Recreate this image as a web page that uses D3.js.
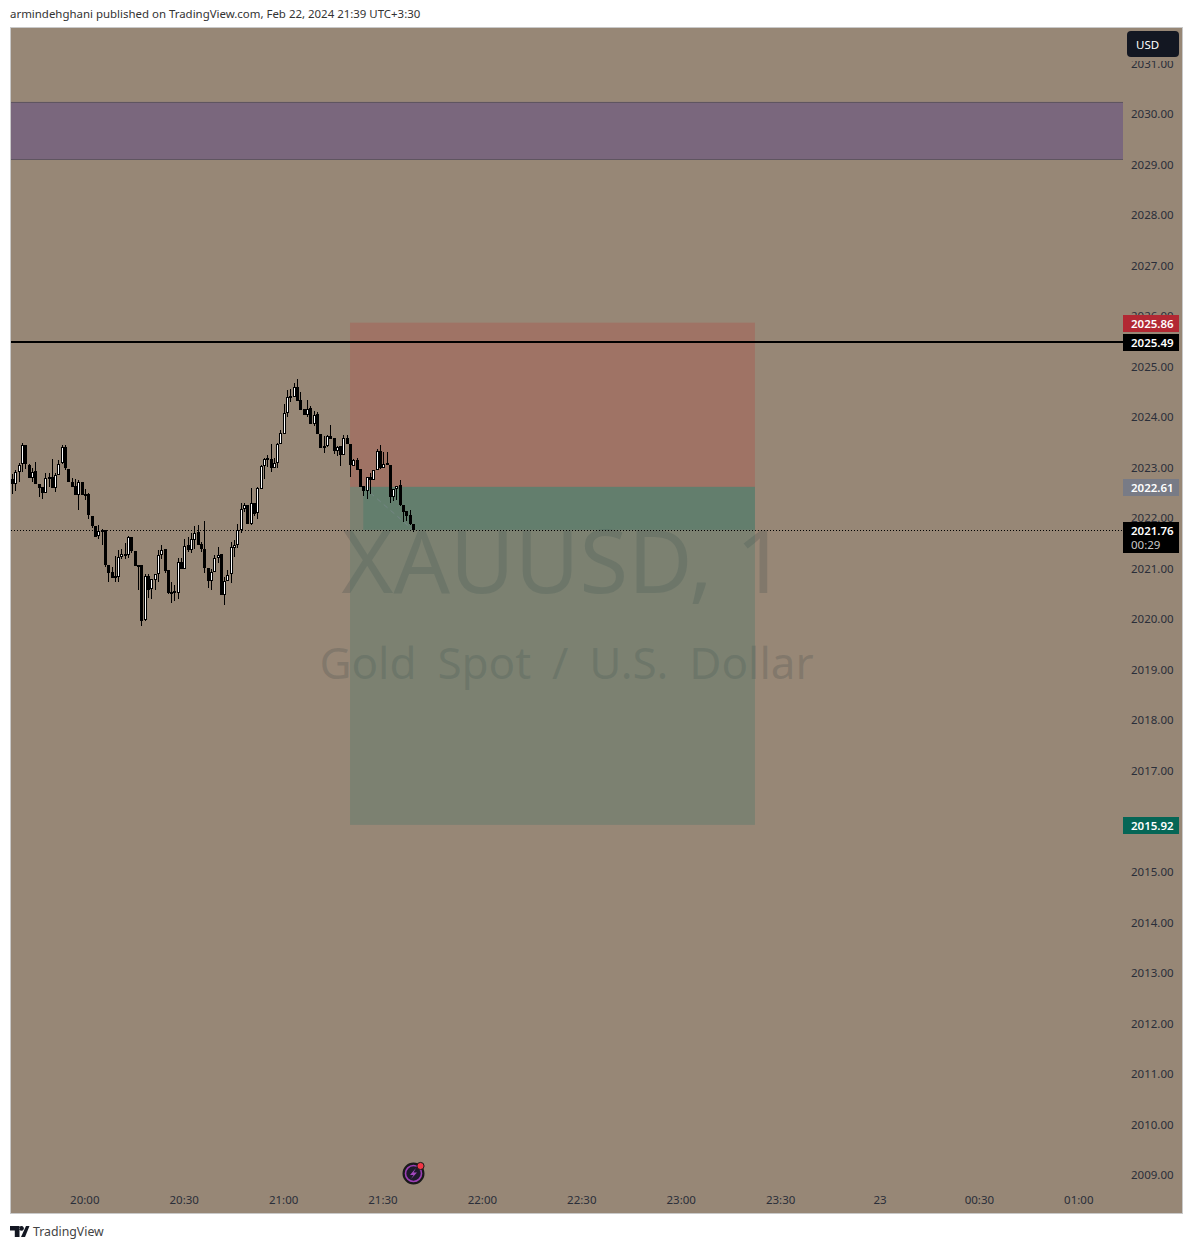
<!DOCTYPE html>
<html><head><meta charset="utf-8">
<script src="https://cdn.jsdelivr.net/npm/d3@7/dist/d3.min.js"></script>
<style>html,body{margin:0;padding:0;background:#fff}svg{display:block}text{font-family:"Noto Sans",sans-serif}</style>
</head><body><svg id="c" width="1193" height="1249"></svg>
<script>
const startMinute = -22;
const opens = [2022.76,2022.67,2022.91,2023.05,2023.43,2023.05,2022.79,2022.93,2022.67,2022.60,2022.49,2022.81,2022.81,2022.60,2022.85,2023.07,2023.39,2022.97,2022.71,2022.62,2022.45,2022.71,2022.46,2022.46,2022.04,2021.84,2021.63,2021.73,2021.76,2021.07,2020.92,2020.84,2020.83,2021.23,2021.29,2021.25,2021.61,2021.34,2021.07,2021.07,2019.97,2020.85,2020.58,2020.78,2020.89,2021.27,2021.38,2020.96,2020.50,2020.54,2020.52,2021.13,2020.99,2021.45,2021.36,2021.57,2021.71,2021.47,2021.39,2021.01,2020.75,2020.93,2021.21,2021.28,2020.47,2020.75,2020.87,2021.41,2021.46,2021.76,2022.18,2022.26,2021.88,2022.29,2022.08,2022.58,2023.03,2023.18,2023.17,2022.99,2023.09,2023.46,2023.67,2024.08,2024.40,2024.39,2024.58,2024.32,2024.15,2024.04,2024.17,2023.86,2024.05,2023.65,2023.38,2023.42,2023.61,2023.57,2023.32,2023.41,2023.24,2023.57,2023.45,2023.03,2023.14,2022.96,2022.62,2022.53,2022.81,2022.75,2022.95,2023.32,2022.99,2023.08,2023.05,2022.41,2022.57,2022.64,2022.25,2022.13,2022.05,2021.88];
const highs = [2022.86,2022.94,2023.09,2023.47,2023.43,2023.07,2022.99,2023.11,2022.67,2022.60,2022.89,2022.89,2023.17,2022.89,2023.15,2023.43,2023.43,2022.97,2022.79,2022.77,2022.74,2022.71,2022.56,2022.48,2022.04,2021.84,2021.86,2021.78,2021.76,2021.07,2021.03,2021.24,2021.37,2021.39,2021.49,2021.63,2021.61,2021.34,2021.07,2021.07,2020.88,2020.89,2020.78,2020.89,2021.36,2021.45,2021.39,2020.96,2020.72,2020.66,2021.20,2021.21,2021.57,2021.62,2021.69,2021.83,2021.85,2021.52,2021.93,2021.01,2020.99,2021.26,2021.42,2021.28,2020.83,2020.96,2021.51,2021.55,2021.87,2022.30,2022.30,2022.26,2022.58,2022.29,2022.60,2023.05,2023.19,2023.25,2023.45,2023.18,2023.47,2023.73,2024.26,2024.52,2024.54,2024.66,2024.74,2024.49,2024.15,2024.32,2024.21,2024.11,2024.09,2023.65,2023.61,2023.63,2023.83,2023.57,2023.42,2023.42,2023.63,2023.63,2023.45,2023.17,2023.18,2022.96,2022.62,2022.81,2022.89,2022.95,2023.36,2023.44,2023.30,2023.30,2023.05,2022.57,2022.63,2022.74,2022.25,2022.13,2022.16,2021.88];
const lows = [2022.46,2022.53,2022.71,2022.91,2022.97,2022.79,2022.71,2022.67,2022.41,2022.37,2022.48,2022.61,2022.60,2022.51,2022.85,2023.07,2022.94,2022.71,2022.61,2022.45,2022.16,2022.46,2022.36,2021.98,2021.80,2021.62,2021.58,2021.45,2021.03,2020.73,2020.81,2020.73,2020.73,2021.19,2021.18,2021.21,2021.30,2021.05,2020.56,2019.85,2019.96,2020.41,2020.39,2020.56,2020.72,2021.18,2020.91,2020.48,2020.31,2020.35,2020.39,2020.99,2020.99,2021.32,2021.30,2021.39,2021.46,2021.32,2020.91,2020.61,2020.56,2020.92,2021.11,2020.47,2020.27,2020.75,2020.71,2021.22,2021.40,2021.70,2022.11,2021.88,2021.85,2022.04,2021.98,2022.57,2022.76,2023.00,2022.91,2022.99,2022.99,2023.46,2023.67,2023.99,2024.29,2024.39,2024.31,2024.13,2024.03,2023.99,2023.85,2023.82,2023.65,2023.37,2023.28,2023.40,2023.55,2023.27,2023.22,2023.02,2023.24,2023.45,2022.81,2023.02,2022.95,2022.61,2022.43,2022.37,2022.46,2022.75,2022.95,2022.97,2022.99,2023.05,2022.29,2022.33,2022.35,2022.24,2021.92,2021.94,2021.86,2021.71];
const closes = [2022.67,2022.91,2023.05,2023.43,2023.05,2022.79,2022.91,2022.67,2022.60,2022.49,2022.79,2022.79,2022.60,2022.85,2023.07,2023.39,2022.97,2022.71,2022.61,2022.45,2022.71,2022.46,2022.45,2022.04,2021.84,2021.63,2021.73,2021.76,2021.07,2020.91,2020.81,2020.83,2021.23,2021.29,2021.25,2021.61,2021.34,2021.05,2021.05,2019.97,2020.85,2020.58,2020.78,2020.89,2021.27,2021.36,2020.95,2020.50,2020.53,2020.52,2021.13,2020.99,2021.44,2021.36,2021.57,2021.70,2021.46,2021.38,2021.01,2020.75,2020.93,2021.21,2021.27,2020.47,2020.75,2020.87,2021.41,2021.46,2021.76,2022.18,2022.26,2021.88,2022.29,2022.08,2022.58,2023.03,2023.17,2023.16,2022.99,2023.09,2023.46,2023.67,2024.08,2024.39,2024.39,2024.58,2024.31,2024.13,2024.04,2024.16,2023.86,2024.04,2023.65,2023.38,2023.42,2023.61,2023.56,2023.32,2023.40,2023.24,2023.57,2023.45,2023.03,2023.14,2022.95,2022.61,2022.53,2022.81,2022.75,2022.95,2023.32,2022.99,2023.07,2023.05,2022.41,2022.57,2022.63,2022.24,2022.12,2022.04,2021.88,2021.76];
const priceTicks = [2009,2010,2011,2012,2013,2014,2015,2016,2017,2018,2019,2020,2021,2022,2023,2024,2025,2026,2027,2028,2029,2030,2031];
const timeTicks = [0,30,60,90,120,150,180,210,240,270,300];
const timeLabels = ["20:00","20:30","21:00","21:30","22:00","22:30","23:00","23:30","23","00:30","01:00"];
const zoneTop = 2030.23, zoneBottom = 2029.09;
const stopPrice = 2025.86, entryPrice = 2022.61, targetPrice = 2015.92, levelPrice = 2025.49, lastPrice = 2021.76;
const positionStart = 80, positionEnd = 202.2, positionFill = 84;
const symbolTitle = "XAUUSD, 1", symbolName = "Gold Spot / U.S. Dollar";
const headerText = "armindehghani published on TradingView.com, Feb 22, 2024 21:39 UTC+3:30";

const svg = d3.select("#c");
const paneL=11, plotR=1123, bg="#978776";
const x = d3.scaleLinear().domain([0,30]).range([85,184.4]);
const y = d3.scaleLinear().domain([2030,2009]).range([113.5,1174.5]);

svg.append("text").attr("x",10).attr("y",18).attr("font-size",11.45).attr("fill","#333").text(headerText);
svg.append("rect").attr("x",10.5).attr("y",27.5).attr("width",1172).attr("height",1186).attr("fill",bg).attr("stroke","#c9c9c9");

// watermark
const wm = svg.append("g").attr("text-anchor","middle").attr("fill","#4f5552").attr("fill-opacity",.3);
wm.append("text").attr("x",564).attr("y",593).attr("font-size",88.5).text(symbolTitle);
wm.append("text").attr("x",566.5).attr("y",679).attr("font-size",44).attr("word-spacing",9.5).text(symbolName);

// zone
svg.append("rect").attr("x",paneL).attr("width",plotR-paneL).attr("y",y(zoneTop)).attr("height",y(zoneBottom)-y(zoneTop)).attr("fill","#7a677d");
[zoneTop,zoneBottom].forEach(p=>svg.append("line").attr("x1",paneL).attr("x2",plotR).attr("y1",Math.round(y(p))+.5).attr("y2",Math.round(y(p))+.5).attr("stroke","#5f5560"));

// position
const bx0=x(positionStart), bx1=x(positionEnd);
svg.append("rect").attr("x",bx0).attr("width",bx1-bx0).attr("y",y(stopPrice)).attr("height",y(entryPrice)-y(stopPrice)).attr("fill","#b2443f").attr("fill-opacity",.3);
svg.append("rect").attr("x",bx0).attr("width",bx1-bx0).attr("y",y(entryPrice)).attr("height",y(targetPrice)-y(entryPrice)).attr("fill","#3f7468").attr("fill-opacity",.3);
svg.append("rect").attr("x",x(positionFill)).attr("width",bx1-x(positionFill)).attr("y",y(entryPrice)).attr("height",y(lastPrice)-y(entryPrice)).attr("fill","#2f7a66").attr("fill-opacity",.32);
svg.append("line").attr("x1",x(positionFill)).attr("y1",y(entryPrice)).attr("x2",x(startMinute+opens.length-1)).attr("y2",y(lastPrice)).attr("stroke","#7f8a92").attr("stroke-width",1).attr("stroke-dasharray","5 4").attr("stroke-opacity",.6);

// levels
svg.append("line").attr("x1",paneL).attr("x2",plotR).attr("y1",Math.ceil(y(levelPrice))).attr("y2",Math.ceil(y(levelPrice))).attr("stroke","#000").attr("stroke-width",2);
svg.append("line").attr("x1",paneL).attr("x2",plotR).attr("y1",Math.round(y(lastPrice))+.5).attr("y2",Math.round(y(lastPrice))+.5).attr("stroke","#000").attr("stroke-dasharray","1 2");

// candles
const cg = svg.append("g").attr("shape-rendering","crispEdges");
const idx = d3.range(opens.length);
const cx = i=>Math.round(x(startMinute+i));
cg.selectAll("line.w").data(idx).join("line").attr("x1",i=>cx(i)+.5).attr("x2",i=>cx(i)+.5).attr("y1",i=>y(highs[i])).attr("y2",i=>y(lows[i])).attr("stroke","#000");
cg.selectAll("rect.b").data(idx).join("rect").attr("x",i=>cx(i)-1).attr("width",3).attr("y",i=>Math.round(y(Math.max(opens[i],closes[i])))).attr("height",i=>Math.max(2,Math.round(Math.abs(y(opens[i])-y(closes[i]))))).attr("fill","#000");
cg.selectAll("rect.f").data(idx.filter(i=>closes[i]>opens[i])).join("rect").attr("x",i=>cx(i)).attr("width",1).attr("y",i=>Math.round(y(closes[i]))+1).attr("height",i=>Math.max(0,Math.round(Math.abs(y(opens[i])-y(closes[i])))-2)).attr("fill","#fff");

// axes
const yAxis = d3.axisRight(y).tickValues(priceTicks).tickSize(0).tickPadding(0).tickFormat(d3.format(".2f"));
const ya = svg.append("g").attr("transform","translate(1131,0.5)").call(yAxis);
ya.select(".domain").remove();
ya.selectAll("text").attr("font-size",11.5).attr("fill","#2a2e39").attr("font-family",'"Noto Sans",sans-serif');
const xAxis = d3.axisBottom(x).tickValues(timeTicks).tickSize(0).tickPadding(0).tickFormat((d,i)=>timeLabels[i]);
const xa = svg.append("g").attr("transform","translate(-0.7,1196)").call(xAxis);
xa.select(".domain").remove();
xa.selectAll("text").attr("font-size",11.5).attr("fill","#2a2e39").attr("font-family",'"Noto Sans",sans-serif');

// price labels
function tag(p,txt,col,h,extra){
  const yy=Math.ceil(y(p));
  svg.append("rect").attr("x",1123).attr("width",56).attr("y",yy-8).attr("height",h).attr("fill",col);
  svg.append("text").attr("x",1131).attr("y",yy+4.5).attr("font-size",11.5).attr("font-weight",600).attr("fill","#fff").text(txt);
  if(extra) svg.append("text").attr("x",1131).attr("y",yy+18.5).attr("font-size",11.5).attr("fill","#c8c8c8").text(extra);
}
tag(stopPrice,d3.format(".2f")(stopPrice),"#b22833",17);
tag(levelPrice,d3.format(".2f")(levelPrice),"#000",17);
tag(entryPrice,d3.format(".2f")(entryPrice),"#787b86",17);
tag(lastPrice,d3.format(".2f")(lastPrice),"#000",31,"00:29");
tag(targetPrice,d3.format(".2f")(targetPrice),"#056656",17);

// USD button, with the halo that clips the top of the 2031 label
svg.append("rect").attr("x",1124).attr("y",28).attr("width",58).attr("height",33).attr("fill",bg);
svg.append("rect").attr("x",1127).attr("y",31).attr("width",52).attr("height",26).attr("rx",4).attr("fill","#131722");
svg.append("text").attr("x",1136).attr("y",49).attr("font-size",11.5).attr("fill","#fff").text("USD");

// events icon
svg.append("circle").attr("cx",413.5).attr("cy",1173.5).attr("r",10).attr("fill","#1e1a2b").attr("stroke","#1a1a1a").attr("stroke-width",2);
svg.append("circle").attr("cx",413.5).attr("cy",1173.5).attr("r",8).attr("fill","none").attr("stroke","#9c3fb5").attr("stroke-width",1.6);
svg.append("path").attr("d","M416 1168 L410 1175 L413.5 1175 L411 1179 L417 1172.5 L413.5 1172.5 Z").attr("fill","#a348c0");
svg.append("circle").attr("cx",420.5).attr("cy",1166).attr("r",3.6).attr("fill","#f23645").attr("stroke","#1a1a1a");

// logo
svg.append("path").attr("d","M10 1226h9.5v11h-4.7v-6.5H10z M21.5 1226a2.4 2.4 0 1 0 .01 0z").attr("fill","#131722");
svg.append("path").attr("d","M21 1237l5-11h3.5l-4.5 11z").attr("fill","#131722");
svg.append("text").attr("x",33).attr("y",1236).attr("font-size",12.3).attr("fill","#444").text("TradingView");
</script></body></html>
